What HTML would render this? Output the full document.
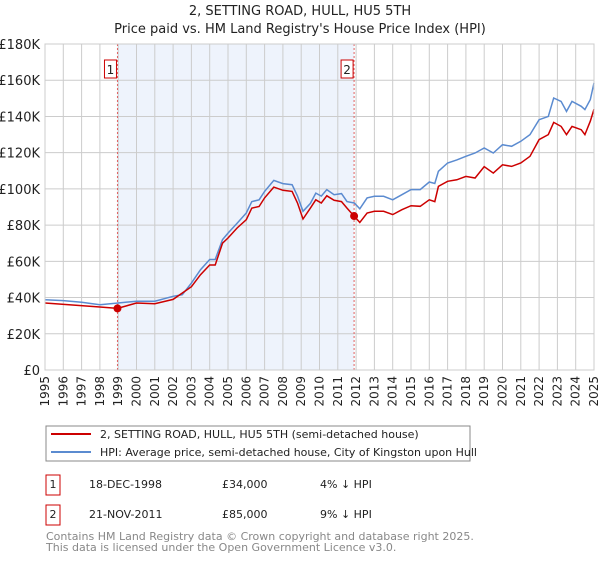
<!DOCTYPE html>
<html><head><meta charset="utf-8"><style>
body{margin:0;background:#fff;font-family:"DejaVu Sans","Liberation Sans",sans-serif;}
svg text{font-family:"DejaVu Sans","Liberation Sans",sans-serif;}
</style></head><body>
<svg id="chart" width="600" height="560" xmlns="http://www.w3.org/2000/svg">
<text x="300" y="15" text-anchor="middle" font-size="13" fill="#222">2, SETTING ROAD, HULL, HU5 5TH</text>
<text x="300" y="33" text-anchor="middle" font-size="13" fill="#222">Price paid vs. HM Land Registry's House Price Index (HPI)</text>
<g id="plot"></g>
<g>
<rect x="46" y="426" width="424" height="35" fill="#fff" stroke="#888"/>
<line x1="51" y1="434" x2="91" y2="434" stroke="#cc0000" stroke-width="2"/>
<text x="100" y="438" font-size="11" fill="#222">2, SETTING ROAD, HULL, HU5 5TH (semi-detached house)</text>
<line x1="51" y1="452" x2="91" y2="452" stroke="#5b8bd0" stroke-width="2"/>
<text x="100" y="456" font-size="11" fill="#222">HPI: Average price, semi-detached house, City of Kingston upon Hull</text>
</g>
<g font-size="11" fill="#222">
<rect x="46" y="475" width="14" height="20" fill="#fff" stroke="#cc0000"/>
<text x="53" y="488" text-anchor="middle">1</text>
<text x="89" y="488">18-DEC-1998</text><text x="222" y="488">£34,000</text><text x="320" y="488">4% ↓ HPI</text>
<rect x="46" y="505" width="14" height="20" fill="#fff" stroke="#cc0000"/>
<text x="53" y="518" text-anchor="middle">2</text>
<text x="89" y="518">21-NOV-2011</text><text x="222" y="518">£85,000</text><text x="320" y="518">9% ↓ HPI</text>
</g>
<text x="46" y="540" font-size="11" fill="#888">Contains HM Land Registry data © Crown copyright and database right 2025.</text>
<text x="46" y="551" font-size="11" fill="#888">This data is licensed under the Open Government Licence v3.0.</text>
</svg>
<script>
const hpiYears=[1995,1996,1997,1998,1999,2000,2001,2002,2002.5,2003,2003.5,2004,2004.3,2004.7,2005,2005.5,2006,2006.3,2006.7,2007,2007.5,2008,2008.5,2008.8,2009.1,2009.5,2009.8,2010.1,2010.4,2010.8,2011.2,2011.5,2011.9,2012.2,2012.6,2013,2013.5,2014,2014.5,2015,2015.5,2016,2016.3,2016.5,2017,2017.5,2018,2018.5,2019,2019.5,2020,2020.5,2021,2021.5,2022,2022.5,2022.8,2023.2,2023.5,2023.8,2024.3,2024.5,2024.8,2025];
const hpiValues=[38800,38300,37400,36000,37000,38000,38000,40700,41600,48000,55400,61000,61000,72000,75600,81000,86700,93000,94000,98600,104700,102900,102300,96000,87600,92000,97700,96000,99600,96800,97400,93000,92200,89000,95000,95900,95900,94000,96800,99600,99600,103800,103000,109700,114300,116000,118000,119800,122600,119800,124400,123500,126300,130000,138200,140000,150200,148300,142800,148300,145600,143800,149300,158500];
const priceYears=[1995,1998,1998.96,2000,2001,2002,2003,2003.5,2004,2004.3,2004.7,2005,2005.5,2006,2006.3,2006.7,2007,2007.5,2008,2008.5,2008.8,2009.1,2009.5,2009.8,2010.1,2010.4,2010.8,2011.2,2011.5,2011.89,2012.2,2012.6,2013,2013.5,2014,2014.5,2015,2015.5,2016,2016.3,2016.5,2017,2017.5,2018,2018.5,2019,2019.5,2020,2020.5,2021,2021.5,2022,2022.5,2022.8,2023.2,2023.5,2023.8,2024.3,2024.5,2024.8,2025];
const priceValues=[37000,34800,34000,37000,36600,39000,46000,52600,58000,58000,70000,72900,78400,83000,89400,90300,95000,101000,99200,98600,92200,83400,89400,94000,92200,96200,93700,93000,89400,85000,81500,86700,87600,87600,85800,88500,90700,90400,94000,93000,101400,104200,105000,106900,106000,112300,108700,113300,112400,114300,118000,127200,130000,136700,134500,130000,134500,132700,130000,137400,144000];
const saleYears=[1998.96,2011.89];
const salePrices=[34000,85000];
const saleLabels=["1","2"];
const yTicks=[0,20000,40000,60000,80000,100000,120000,140000,160000,180000];
const yTickLabels=["£0","£20K","£40K","£60K","£80K","£100K","£120K","£140K","£160K","£180K"];
const xTicks=[];for(let y=1995;y<=2025;y++)xTicks.push(y);

const X0=45,X1=594,Y0=370,Y1=44;
const xs=v=>X0+(v-1995)/30*(X1-X0);
const ys=v=>Y0-v/180000*(Y0-Y1);
const NS="http://www.w3.org/2000/svg";
const g=document.getElementById('plot');
function mk(t,a){const e=document.createElementNS(NS,t);for(const k in a)e.setAttribute(k,a[k]);g.appendChild(e);return e;}
let sh=mk('rect',{x:xs(saleYears[0]),y:Y1,width:xs(saleYears[1])-xs(saleYears[0]),height:Y0-Y1,fill:'#eef3fc'});


xTicks.forEach(t=>{
  const l=mk('line',{x1:xs(t),x2:xs(t),y1:Y1,y2:Y0,stroke:'#cccccc'});
  
  
  const tx=mk('text',{x:0,y:0,'font-size':12,fill:'#222','text-anchor':'end',transform:`translate(${xs(t)+4},${Y0+6}) rotate(-90)`});
  tx.textContent=t;
  
  
});
yTicks.forEach((t,i)=>{
  const l=mk('line',{x1:X0,x2:X1,y1:ys(t),y2:ys(t),stroke:'#cccccc'});
  
  
  const tx=mk('text',{x:X0-5,y:ys(t)+5,'font-size':13,fill:'#222','text-anchor':'end'});
  tx.textContent=yTickLabels[i];
  
  
});
saleYears.forEach((s,i)=>{
  const l=mk('line',{x1:xs(s),x2:xs(s),y1:Y1,y2:Y0,stroke:'#e06060','stroke-dasharray':'2,2'});
  
  
  const r=mk('rect',{x:xs(s)-13,y:60,width:12,height:18,fill:'#fff',stroke:'#cc0000'});
  
  
  const tx=mk('text',{x:xs(s)-7,y:74,'font-size':12,fill:'#222','text-anchor':'middle'});
  tx.textContent=saleLabels[i];
  
  
});
const pts=(a,b)=>a.map((x,i)=>xs(x).toFixed(1)+','+ys(b[i]).toFixed(1)).join(' ');
const hl=mk('polyline',{points:pts(hpiYears,hpiValues),fill:'none',stroke:'#5b8bd0','stroke-width':1.5});


const pl=mk('polyline',{points:pts(priceYears,priceValues),fill:'none',stroke:'#cc0000','stroke-width':1.5});


saleYears.forEach((s,i)=>{
  const c=mk('circle',{cx:xs(s),cy:ys(salePrices[i]),r:4,fill:'#cc0000'});
  
  
});
const bx=mk('rect',{x:X0,y:Y1,width:X1-X0,height:Y0-Y1,fill:'none',stroke:'#cccccc'});


</script>
</body></html>
